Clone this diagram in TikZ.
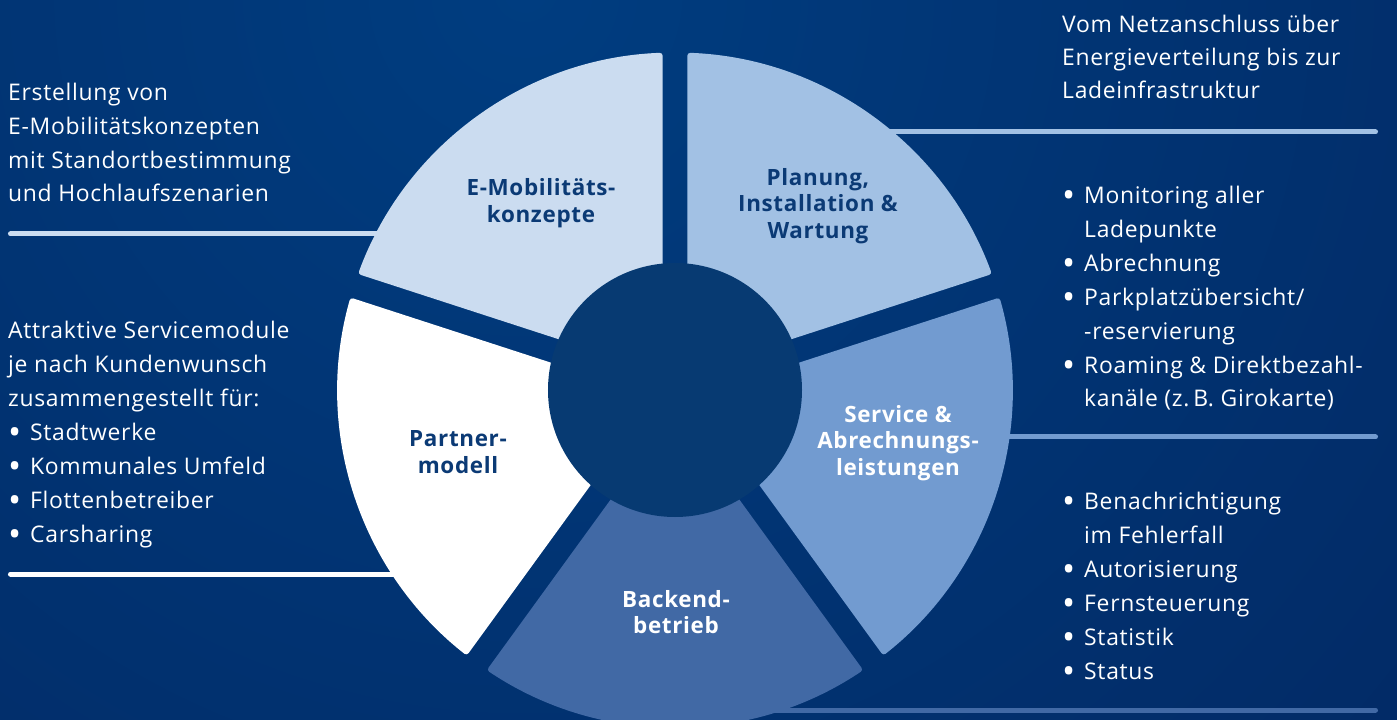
\documentclass[tikz,border=0pt]{standalone}
\usepackage{fontspec}
\setmainfont{Open Sans}[LetterSpace=3]
\usetikzlibrary{positioning,calc}
\definecolor{bglight}{HTML}{003D80}
\definecolor{bgdark}{HTML}{041A4F}
\definecolor{hub}{HTML}{073A72}
\definecolor{navy}{HTML}{0B3A75}
\definecolor{segA}{HTML}{CBDCF0}
\definecolor{segB}{HTML}{A2C1E4}
\definecolor{segC}{HTML}{729BD0}
\definecolor{segD}{HTML}{4169A5}
\newcommand\blt{\makebox[22bp][l]{\raisebox{-4.2bp}{\fontsize{35}{35}\selectfont\textbullet}}}
\newcommand\bltind{\hspace*{22bp}}

\begin{document}
\begin{tikzpicture}[x=1bp,y=1bp,
    lbl/.style={font=\bfseries\fontsize{22.5}{26.5}\selectfont,align=center},
    txt/.style={font=\fontsize{23}{34}\selectfont,text=white,align=left,anchor=base west,inner sep=0pt},
    link/.style={line width=5bp,line cap=round}]
  \useasboundingbox (-675,-329) rectangle (722,390);
  % background
  \begin{scope}
    \clip (-675,-329) rectangle (722,390);
    \shade[inner color=bglight,outer color=bgdark] (-150,400) circle (2200);
  \end{scope}
  % link lines, under the ring
  \coordinate (emobL) at (-664.5,156);  \coordinate (emobR) at (-280,156);
  \coordinate (partL) at (-664.5,-184); \coordinate (partR) at (-260,-184);
  \coordinate (planL) at (185,258);     \coordinate (planR) at (700.5,258);
  \coordinate (servL) at (305,-47);     \coordinate (servR) at (700.5,-47);
  \coordinate (backL) at (80,-320);     \coordinate (backR) at (700.5,-320);
  \draw[link,segA] (emobL) -- (emobR);
  \draw[link,white] (partL) -- (partR);
  \draw[link,segB] (planL) -- (planR);
  \draw[link,segC] (servL) -- (servR);
  \draw[link,segD] (backL) -- (backR);
  % ring segments
  \foreach \a/\col in {18/segB,90/segA,162/white,234/segD,306/segC}{
    \fill[\col,rounded corners=3bp] ({\a+5.9}:120) -- ({\a+2.1}:337.5)
      arc[start angle=\a+2.1,end angle=\a+69.9,radius=337.5]
      -- ({\a+66.1}:120) arc[start angle=\a+66.1,end angle=\a+5.9,radius=120] -- cycle;
  }
  \fill[hub] (0,0) circle (127);
  % segment labels
  \node[lbl,text=navy]  (emob) at (-134,187) {E-Mobilitäts-\\konzepte};
  \node[lbl,text=navy]  (plan) at (143,184)  {Planung,\\Installation \&\\Wartung};
  \node[lbl,text=white] (serv) at (223,-53)  {Service \&\\Abrechnungs-\\leistungen};
  \node[lbl,text=white] (back) at (1,-222)   {Backend-\\betrieb};
  \node[lbl,text=navy]  (part) at (-217,-62) {Partner-\\modell};
  % side texts (anchored at the last baseline)
  \node[txt] (emobtxt) at (-667,188) {Erstellung von\\E-Mobilitätskonzepten\\mit Standortbestimmung\\und Hochlaufszenarien};
  \node[txt] (parttxt) at (-667,-152) {Attraktive Servicemodule\\je nach Kundenwunsch\\zusammengestellt für:\\\blt Stadtwerke\\\blt Kommunales Umfeld\\\blt Flottenbetreiber\\\blt Carsharing};
  \node[txt,font=\fontsize{23}{33.5}\selectfont] (plantxt) at (387,291) {Vom Netzanschluss über\\Energieverteilung bis zur\\Ladeinfrastruktur};
  \node[txt] (servtxt) at (387,-17) {\blt Monitoring aller\\\bltind Ladepunkte\\\blt Abrechnung\\\blt Parkplatzübersicht/\\\bltind -reservierung\\\blt Roaming \& Direktbezahl-\\\bltind kanäle (z.\,B. Girokarte)};
  \node[txt] (backtxt) at (387,-289) {\blt Benachrichtigung\\\bltind im Fehlerfall\\\blt Autorisierung\\\blt Fernsteuerung\\\blt Statistik\\\blt Status};
\end{tikzpicture}
\end{document}
